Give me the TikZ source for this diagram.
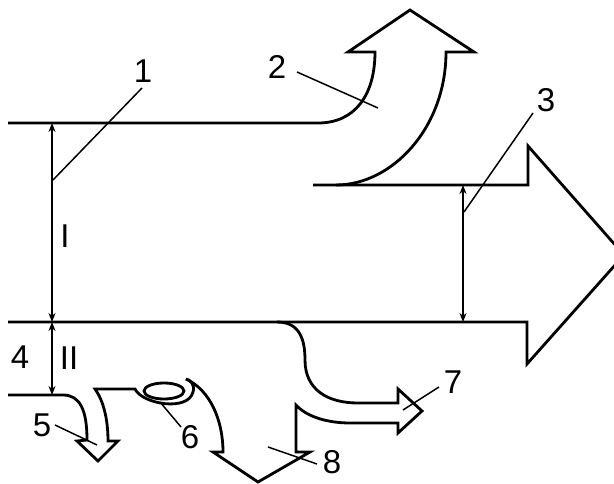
\documentclass[tikz,border=0pt]{standalone}
\usepackage{fontspec}
\setmainfont{Liberation Sans}
\usetikzlibrary{arrows.meta}
\begin{document}
\begin{tikzpicture}[x=1pt,y=-1pt,
  outline/.style={line width=2.8pt,line join=miter,black},
  dimline/.style={line width=1.6pt,{Stealth[length=9pt,width=7pt]}-{Stealth[length=9pt,width=7pt]}},
  leader/.style={line width=1.5pt},
  lbl/.style={inner sep=0pt,font=\fontsize{33}{37}\selectfont}]
\useasboundingbox (0,0) rectangle (614,484);
% main outline: top line, arrow 2, arrow 3, bottom line
\draw[outline] (8,123) -- (318,123) .. controls (355,123) and (375,95) .. (375,52)
  -- (348,52) -- (410,10) -- (474,52) -- (446,52)
  .. controls (446,128) and (392,185) .. (336,185);
\draw[outline] (313,185) -- (528,185) -- (528,146) -- (624,255) -- (527,364) -- (527,322) -- (8,322);
% arrows 7 and 8
\draw[outline] (277,322) .. controls (300,322) and (305,340) .. (305,360)
  .. controls (305,390) and (328,403) .. (358,403) -- (398,403) -- (398,389)
  -- (422,411) -- (398,433) -- (398,423) -- (350,423)
  .. controls (330,423) and (308,418) .. (296,405) -- (296,452) -- (310,452)
  -- (258,482) -- (213,452) -- (223,452)
  .. controls (223,420) and (210,390) .. (186,379);
% arrow 5 and wrap around 6
\draw[outline] (8,395) -- (63,395) .. controls (80,395) and (87,410) .. (87,440)
  -- (77,441) -- (98,461) -- (118,441) -- (108,441)
  .. controls (108,418) and (103,400) .. (95,389) -- (135,389)
  .. controls (142,404) and (188,412) .. (193,392)
  .. controls (195,385) and (191,380) .. (186,379);
\draw[outline] (164,391) ellipse [x radius=20, y radius=8];
% dimension arrows
\coordinate (t1) at (52,123); \coordinate (b1) at (52,322); \coordinate (b2) at (52,395);
\coordinate (t3) at (463,185); \coordinate (b3) at (463,322);
\draw[dimline] (t1) -- (b1);
\draw[dimline] (b1) -- (b2);
\draw[dimline] (t3) -- (b3);
% labels
\node[lbl] (n1) at (143,71) {1};
\node[lbl] (n2) at (277,67) {2};
\node[lbl] (n3) at (546,100) {3};
\node[lbl] (n4) at (20,357) {4};
\node[lbl] (nII) at (69,358) {II};
\node[lbl] (nI) at (65,236) {I};
\node[lbl] (n5) at (42,425) {5};
\node[lbl] (n6) at (190,437) {6};
\node[lbl] (n7) at (453,382) {7};
\node[lbl] (n8) at (332,462) {8};
% leader lines
\coordinate (l1a) at (142,88); \coordinate (l1b) at (53,180);
\coordinate (l2a) at (297,72); \coordinate (l2b) at (378,108);
\coordinate (l3a) at (533,113); \coordinate (l3b) at (464,212);
\coordinate (l5a) at (55,425); \coordinate (l5b) at (97,445);
\coordinate (l6a) at (160,402); \coordinate (l6b) at (181,427);
\coordinate (l7a) at (439,387); \coordinate (l7b) at (403,410);
\coordinate (l8a) at (268,447); \coordinate (l8b) at (317,464);
\draw[leader] (l1a) -- (l1b);
\draw[leader] (l2a) -- (l2b);
\draw[leader] (l3a) -- (l3b);
\draw[leader] (l5a) -- (l5b);
\draw[leader] (l6a) -- (l6b);
\draw[leader] (l7a) -- (l7b);
\draw[leader] (l8a) -- (l8b);
\end{tikzpicture}
\end{document}
